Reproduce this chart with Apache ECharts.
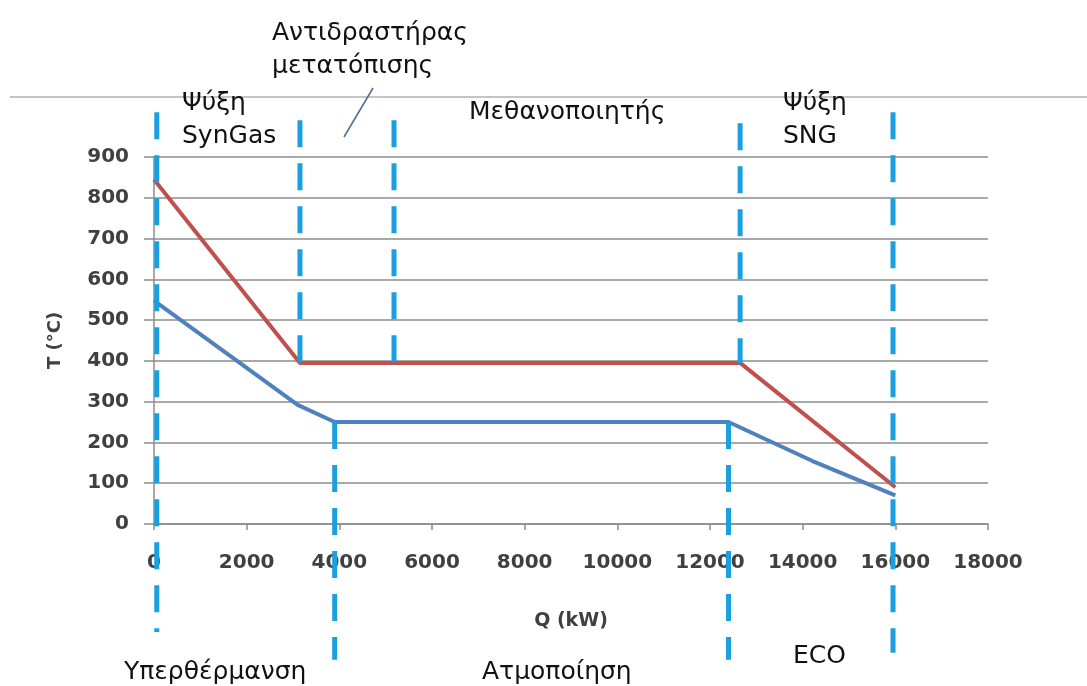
<!DOCTYPE html>
<html>
<head>
<meta charset="utf-8">
<script src="https://cdn.jsdelivr.net/npm/echarts@6/dist/echarts.min.js"></script>
<style>
  html, body { margin: 0; padding: 0; background: #ffffff; }
  #chart { width: 1087px; height: 686px; }
</style>
</head>
<body>
<div id="chart"></div>
<script>
// Heat duty Q (kW) and temperature T (°C) of the hot and cold streams
const hotQ  = [0, 3150, 12650, 16000];
const hotT  = [845, 395, 395, 90];
const coldQ = [0, 3100, 3900, 12400, 14200, 16000];
const coldT = [548, 292, 250, 250, 155, 70];

// Section boundaries: Q position, top and bottom temperature of each dashed divider
const dividerQ      = [60, 3150, 5180, 12650, 15950, 3900, 12400];
const dividerTop    = [1010, 990, 990, 983, 1010, 250, 250];
const dividerBottom = [-265, 395, 395, 395, -316, -333, -333];

// Axis ticks
const xTicks = { min: 0, max: 18000, step: 2000 };
const yTicks = { min: 0, max: 900, step: 100 };

// Section names
const sectionLabels = [
  { text: 'Ψύξη\nSynGas', x: 182, y: 87 },
  { text: 'Αντιδραστήρας\nμετατόπισης', x: 272, y: 17 },
  { text: 'Μεθανοποιητής', x: 469, y: 96 },
  { text: 'Ψύξη\nSNG', x: 783, y: 87 },
  { text: 'Υπερθέρμανση', x: 124, y: 656 },
  { text: 'Ατμοποίηση', x: 482, y: 656 },
  { text: 'ECO', x: 793, y: 640 }
];

const pairs = (xs, ys) => xs.map((x, i) => [x, ys[i]]);
const gridGray = '#8c8c8c';
const labelFont = 'DejaVu Sans';

const series = [
  {
    name: 'hot', type: 'line', data: pairs(hotQ, hotT),
    symbol: 'none', z: 3,
    lineStyle: { color: '#C0504D', width: 4 }
  },
  {
    name: 'cold', type: 'line', data: pairs(coldQ, coldT),
    symbol: 'none', z: 3,
    lineStyle: { color: '#4F81BD', width: 4 }
  }
];

dividerQ.forEach((q, i) => {
  series.push({
    name: 'divider' + i, type: 'line',
    data: [[q, dividerTop[i]], [q, dividerBottom[i]]],
    symbol: 'none', clip: false, silent: true, z: 5,
    lineStyle: { color: '#1A9FE0', width: 5, type: [27, 16], cap: 'butt' }
  });
});

const graphics = sectionLabels.map(l => ({
  type: 'text', left: l.x, top: l.y, z: 10,
  style: { text: l.text, font: '25px "' + labelFont + '"', fill: '#111111', lineHeight: 33 }
}));
// frame line above the plot and the leader line of the shift reactor label
graphics.unshift({
  type: 'line', z: 1,
  shape: { x1: 10, y1: 97, x2: 1087, y2: 97 },
  style: { stroke: '#c4c4c4', lineWidth: 2 }
});
graphics.push({
  type: 'line', z: 10,
  shape: { x1: 373, y1: 88, x2: 344, y2: 137 },
  style: { stroke: '#4E6C8E', lineWidth: 1.5 }
});

const chart = echarts.init(document.getElementById('chart'), null, { renderer: 'canvas' });
chart.setOption({
  animation: false,
  backgroundColor: '#ffffff',
  grid: { left: 154, right: 99, top: 157, bottom: 162 },
  xAxis: {
    type: 'value', min: xTicks.min, max: xTicks.max, interval: xTicks.step,
    name: 'Q (kW)', nameLocation: 'middle', nameGap: 88,
    nameTextStyle: { fontFamily: labelFont, fontWeight: 'bold', fontSize: 19, color: '#404040' },
    axisLine: { show: true, lineStyle: { color: gridGray, width: 1.5 } },
    axisTick: { show: true, length: 6, lineStyle: { color: gridGray, width: 1.5 } },
    axisLabel: { margin: 29, fontFamily: labelFont, fontWeight: 'bold', fontSize: 20, color: '#404040',
                 formatter: v => String(v) },
    splitLine: { show: false }
  },
  yAxis: {
    type: 'value', min: yTicks.min, max: yTicks.max, interval: yTicks.step,
    name: 'T (°C)', nameLocation: 'middle', nameGap: 90, nameRotate: 90,
    nameTextStyle: { fontFamily: labelFont, fontWeight: 'bold', fontSize: 18, color: '#404040' },
    axisLine: { show: true, lineStyle: { color: gridGray, width: 1.5 } },
    axisTick: { show: true, length: 10, lineStyle: { color: gridGray, width: 1.5 } },
    axisLabel: { margin: 25, fontFamily: labelFont, fontWeight: 'bold', fontSize: 20, color: '#404040',
                 formatter: v => String(v) },
    splitLine: { show: true, lineStyle: { color: gridGray, width: 1.5 } }
  },
  series: series,
  graphic: graphics
});
</script>
</body>
</html>
